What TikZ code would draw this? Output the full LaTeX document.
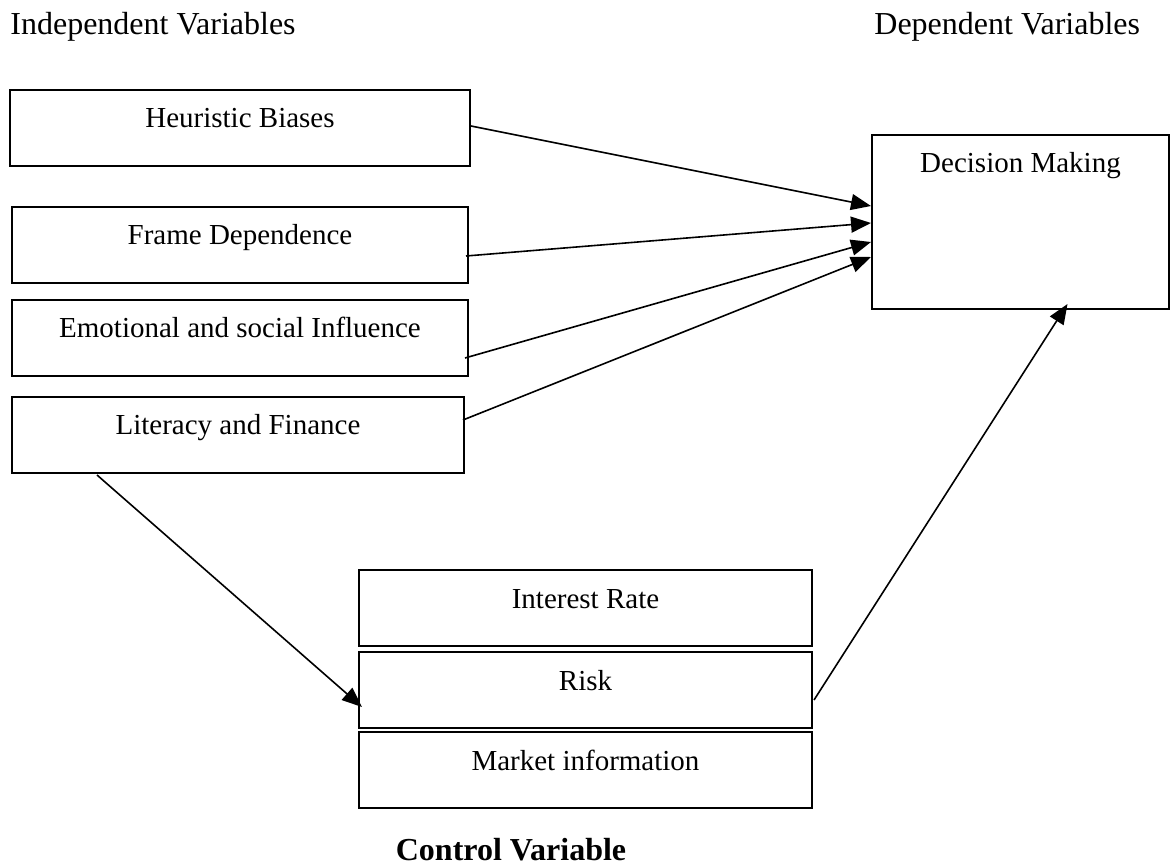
\documentclass[tikz,border=0pt]{standalone}
\usepackage{fontspec}
\setmainfont{Liberation Serif}
\usetikzlibrary{arrows.meta,calc}
\begin{document}
\begin{tikzpicture}[x=0.5pt,y=-0.5pt,
  box/.style={draw, line width=1pt, inner sep=0pt, anchor=base,
    text height=19pt, text depth=19pt, font=\fontsize{14.5}{17}\selectfont},
  head/.style={inner sep=0pt, font=\fontsize{16}{19}\selectfont},
  conn/.style={line width=0.8pt, -{Triangle[length=10pt,width=8pt]}}]
\useasboundingbox (0,0) rectangle (1172,865);
\node[head, anchor=base west] (iv) at (10,35) {Independent Variables};
\node[head, anchor=base west] (dv) at (874,35) {Dependent Variables};
\node[box, minimum width=230pt] (hb) at (240,128) {Heuristic Biases};
\node[box, minimum width=228pt] (fd) at (240,245) {Frame Dependence};
\node[box, minimum width=228pt] (es) at (240,338) {Emotional and social Influence};
\node[box, minimum width=226pt] (lf) at (238,435) {Literacy and Finance};
\node[box, minimum width=148.5pt, text depth=68pt] (dm) at (1020.5,173) {Decision Making};
\node[box, minimum width=226.5pt] (ir) at (585.5,608) {Interest Rate};
\node[box, minimum width=226.5pt] (rk) at (585.5,690) {Risk};
\node[box, minimum width=226.5pt] (mi) at (585.5,770) {Market information};
\node[head, anchor=base, font=\fontsize{16}{19}\selectfont\bfseries] (cv) at (511,860) {Control Variable};
\draw[conn] ($(hb.east)+(0,-2)$) -- ($(dm.west)+(0,-16)$);
\draw[conn] ($(fd.east)+(-3,11)$) -- ($(dm.west)+(0,1)$);
\draw[conn] ($(es.east)+(-4,20)$) -- ($(dm.west)+(0,20)$);
\draw[conn] ($(lf.east)+(-2,-15)$) -- ($(dm.west)+(0,35)$);
\draw[conn] ($(lf.south west)+(86,1)$) -- ($(rk.west)+(4,17)$);
\draw[conn] ($(rk.east)+(1,10)$) -- ($(dm.south)+(47,-6)$);
\end{tikzpicture}
\end{document}
